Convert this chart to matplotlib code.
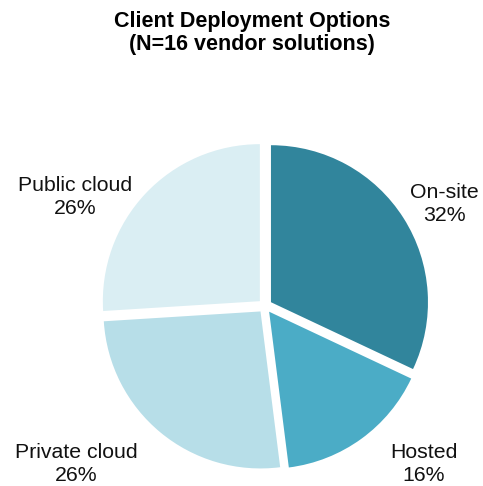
import matplotlib.pyplot as plt

plt.rcParams['font.family'] = ['Liberation Sans', 'DejaVu Sans']

# deployment options across the 16 vendor solutions
opciones = ['On-site', 'Hosted', 'Private cloud', 'Public cloud']
porcentajes = [32, 16, 26, 26]
colores = ['#31859C', '#4BACC6', '#B7DEE8', '#DAEEF3']

# pie centre and radius in pixels
centro_x, centro_y = 265, 306
escala = 157

# label centres in pixels (from the top-left corner)
pos_etiquetas = [(444, 204), (424, 464), (76, 464), (75, 197)]

fig = plt.figure(figsize=(4.83, 4.86), dpi=100)
ax = fig.add_axes([0, 0, 1, 1])

ax.pie(porcentajes, colors=colores, startangle=90, counterclock=False,
       explode=[0.045] * len(porcentajes), wedgeprops={'linewidth': 0})

for nombre, valor, (px, py) in zip(opciones, porcentajes, pos_etiquetas):
    ax.text((px - centro_x) / escala, (centro_y - py) / escala, f'{nombre}\n{valor}%',
            ha='center', va='center', fontsize=15.3, linespacing=1.25, color='#111111')

ax.set_xlim(-centro_x / escala, (483 - centro_x) / escala)
ax.set_ylim(-(486 - centro_y) / escala, centro_y / escala)
ax.set_aspect('auto')
ax.axis('off')

fig.text(252 / 483, 1 - 33 / 486, 'Client Deployment Options\n(N=16 vendor solutions)',
         ha='center', va='center', fontsize=15.5, fontweight='bold', linespacing=1.1)

fig.savefig('out.png', dpi=100)
